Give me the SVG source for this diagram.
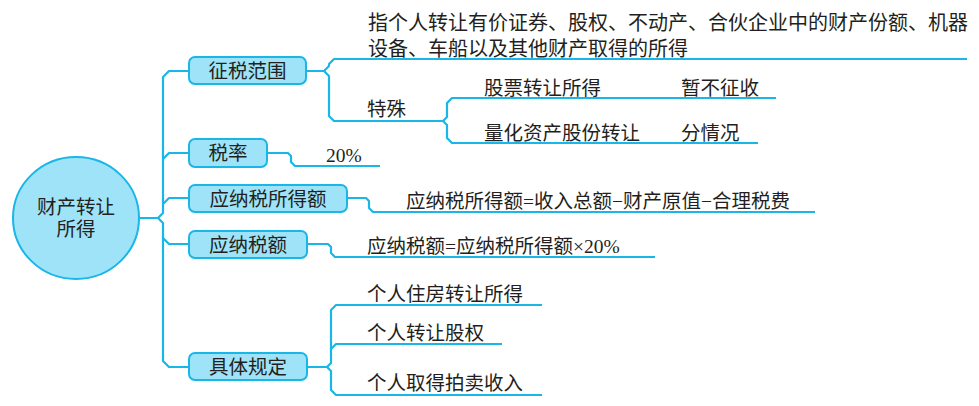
<svg xmlns="http://www.w3.org/2000/svg" width="979" height="406" viewBox="0 0 979 406">
<style>
.ln{fill:none;stroke:#19B6E8;stroke-width:2.2;stroke-linejoin:round}
.bx{fill:#9FE3F8;stroke:#19B6E8;stroke-width:2}
.t{font-family:"Liberation Serif","Noto Sans CJK SC",serif;font-size:19.5px;fill:#231F20}
.c{text-anchor:middle}
</style>
<rect width="979" height="406" fill="#FFFFFF"/>
<g id="connectors">
<path class="ln" d="M139,218 H158 L163,213 V77 L169,71 H189"/>
<path class="ln" d="M158,218 L163,223 V361 L169,367 H189"/>
<path class="ln" d="M163,159 L169,153 H189"/>
<path class="ln" d="M163,204 L169,198 H189"/>
<path class="ln" d="M163,238 L169,244 H189"/>
<path class="ln" d="M306,71 H324 L329,66 V64 L334,59 H967"/>
<path class="ln" d="M324,71 L329,76 V116 L334,121 H443"/>
<path class="ln" d="M443,121 L447,117 V103 L452,98 H776"/>
<path class="ln" d="M443,121 L447,125 V138 L452,143 H758"/>
<path class="ln" d="M267,153 H288 L291,156 V162 L295,166 H380"/>
<path class="ln" d="M347,198 H366 L369,201 V208 L373,212 H815"/>
<path class="ln" d="M307,244 H328 L331,247 V253 L335,257 H655"/>
<path class="ln" d="M307,367 H327 L331,363 V310 L336,305 H542"/>
<path class="ln" d="M327,367 L331,371 V390 L336,395 H542"/>
<path class="ln" d="M331,349 L336,344 H502"/>
</g>
<g id="root">
<ellipse class="bx" cx="76" cy="218" rx="63" ry="61"/>
<text class="t c" x="76" y="214">财产转让</text>
<text class="t c" x="76" y="236">所得</text>
</g>
<g id="n-scope">
<rect class="bx" x="189" y="57" width="117" height="27" rx="6"/>
<text class="t c" x="247.5" y="77.5">征税范围</text>
</g>
<g id="n-rate">
<rect class="bx" x="189" y="139" width="78" height="28" rx="6"/>
<text class="t c" x="228" y="160">税率</text>
</g>
<g id="n-taxable">
<rect class="bx" x="189" y="185" width="158" height="27" rx="6"/>
<text class="t c" x="268" y="205.5">应纳税所得额</text>
</g>
<g id="n-tax">
<rect class="bx" x="189" y="231" width="118" height="27" rx="6"/>
<text class="t c" x="248" y="251.5">应纳税额</text>
</g>
<g id="n-rules">
<rect class="bx" x="189" y="353" width="118" height="27" rx="6"/>
<text class="t c" x="248" y="373.5">具体规定</text>
</g>
<g id="leaves">
<text class="t" x="368" y="30" style="font-size:20px">指个人转让有价证券、股权、不动产、合伙企业中的财产份额、机器</text>
<text class="t" x="368" y="56" style="font-size:20px">设备、车船以及其他财产取得的所得</text>
<text class="t" x="367" y="116">特殊</text>
<text class="t" x="484" y="95">股票转让所得</text>
<text class="t" x="681" y="95">暂不征收</text>
<text class="t" x="484" y="140">量化资产股份转让</text>
<text class="t" x="681" y="140">分情况</text>
<text class="t" x="326" y="162">20%</text>
<text class="t" x="406" y="208">应纳税所得额=收入总额−财产原值−合理税费</text>
<text class="t" x="367" y="253">应纳税额=应纳税所得额×20%</text>
<text class="t" x="367" y="301">个人住房转让所得</text>
<text class="t" x="367" y="340">个人转让股权</text>
<text class="t" x="367" y="390">个人取得拍卖收入</text>
</g>
</svg>
